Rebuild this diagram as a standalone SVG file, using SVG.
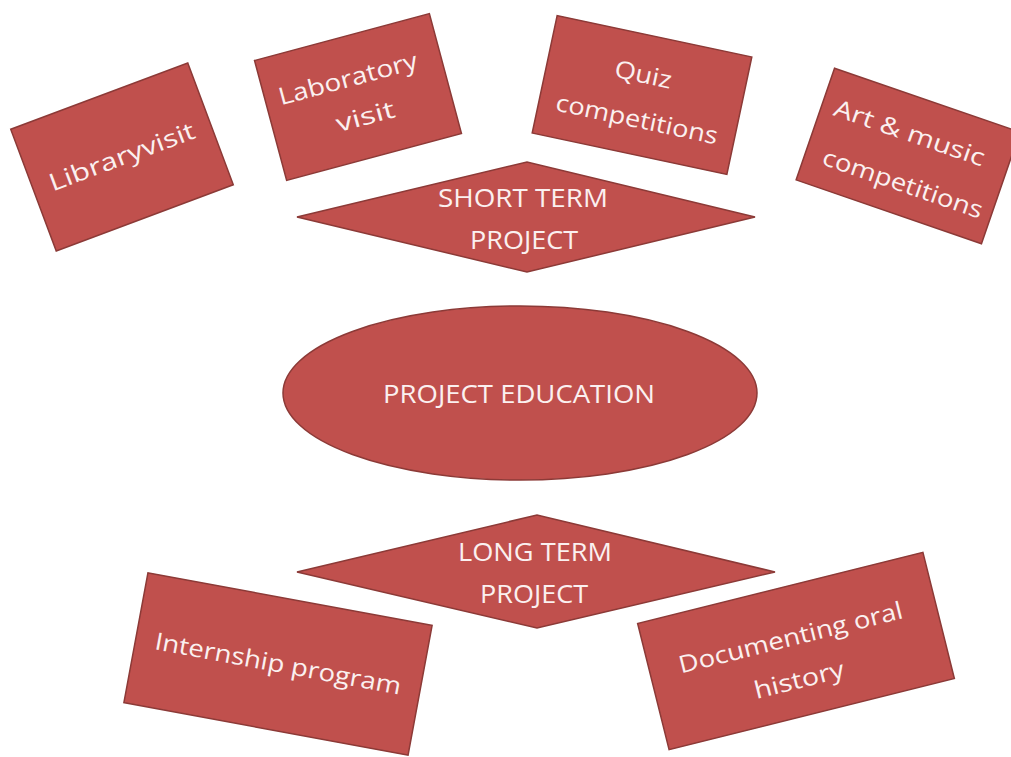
<svg xmlns="http://www.w3.org/2000/svg" width="1011" height="757" viewBox="0 0 1011 757">
<style>
.shape{fill:#c0504d;stroke:#8c3a37;stroke-width:1.5}
.t{font-family:"Open Sans","Liberation Sans",sans-serif;fill:#fbf0f0;text-anchor:middle;font-size:24px}
.c{font-family:"Open Sans","Liberation Sans",sans-serif;fill:#fbf0f0;text-anchor:middle;font-size:26px}
</style>
<rect width="1011" height="757" fill="#ffffff"/>
<g id="connectors"></g>
<g id="library" transform="translate(122,157) rotate(-20.5)">
<rect class="shape" x="-94.5" y="-65" width="189" height="130"/>
<text class="t" x="0" y="8" textLength="154" lengthAdjust="spacingAndGlyphs">Libraryvisit</text>
</g>
<g id="laboratory" transform="translate(358,97) rotate(-15)">
<rect class="shape" x="-90.5" y="-62" width="181" height="124"/>
<text class="t" x="-5" y="-12" textLength="143" lengthAdjust="spacingAndGlyphs">Laboratory</text>
<text class="t" x="2" y="29" textLength="60" lengthAdjust="spacingAndGlyphs">visit</text>
</g>
<g id="quiz" transform="translate(642,95) rotate(12)">
<rect class="shape" x="-99.5" y="-60" width="199" height="120"/>
<text class="t" x="-3" y="-12" textLength="58" lengthAdjust="spacingAndGlyphs">Quiz</text>
<text class="t" x="0" y="33" textLength="165" lengthAdjust="spacingAndGlyphs">competitions</text>
</g>
<g id="art" transform="translate(908,156) rotate(19)">
<rect class="shape" x="-98" y="-59" width="196" height="118"/>
<text class="t" x="-6" y="-14" textLength="158" lengthAdjust="spacingAndGlyphs">Art &amp; music</text>
<text class="t" x="4" y="36" textLength="168" lengthAdjust="spacingAndGlyphs">competitions</text>
</g>
<g id="short-term">
<polygon class="shape" points="297,217 527,162 755,217 527,272"/>
<text class="c" x="523" y="207" textLength="170" lengthAdjust="spacingAndGlyphs">SHORT TERM</text>
<text class="c" x="524" y="249" textLength="108" lengthAdjust="spacingAndGlyphs">PROJECT</text>
</g>
<g id="project-education">
<ellipse class="shape" cx="520" cy="393" rx="237" ry="87"/>
<text class="c" x="519" y="403" textLength="272" lengthAdjust="spacingAndGlyphs">PROJECT EDUCATION</text>
</g>
<g id="long-term">
<polygon class="shape" points="297,572 537,515 775,572 537,628"/>
<text class="c" x="535" y="561" textLength="154" lengthAdjust="spacingAndGlyphs">LONG TERM</text>
<text class="c" x="534" y="603" textLength="108" lengthAdjust="spacingAndGlyphs">PROJECT</text>
</g>
<g id="internship" transform="translate(278,664) rotate(10.5)">
<rect class="shape" x="-144.5" y="-66" width="289" height="132"/>
<text class="t" x="0" y="8" textLength="250" lengthAdjust="spacingAndGlyphs">Internship program</text>
</g>
<g id="documenting" transform="translate(796,651) rotate(-14)">
<rect class="shape" x="-147" y="-65" width="294" height="130"/>
<text class="t" x="-2" y="-6" textLength="230" lengthAdjust="spacingAndGlyphs">Documenting oral</text>
<text class="t" x="-4" y="37" textLength="92" lengthAdjust="spacingAndGlyphs">history</text>
</g>
</svg>
